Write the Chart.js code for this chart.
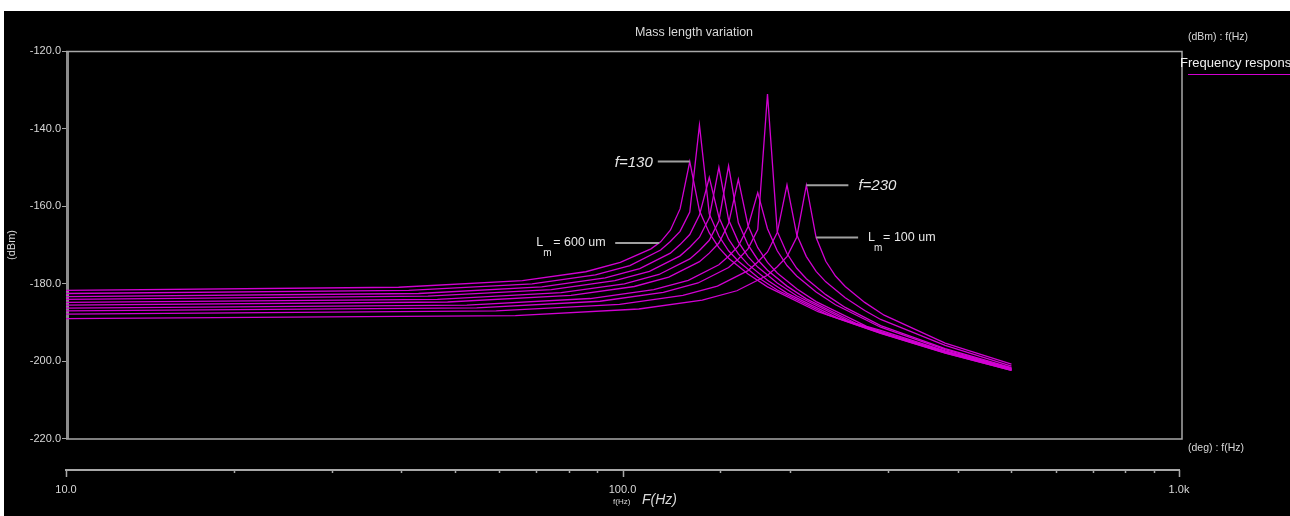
<!DOCTYPE html>
<html>
<head>
<meta charset="utf-8">
<script src="https://cdn.jsdelivr.net/npm/chart.js@4.4.1/dist/chart.umd.min.js"></script>
<style>
  html, body { margin: 0; padding: 0; background: #fff; }
  #wrap { position: absolute; left: 4px; top: 11px; width: 1286px; height: 505px; background: #000; }
  canvas { display: block; }
</style>
</head>
<body>
<div id="wrap"><canvas id="fr" width="1286" height="505"></canvas></div>
<script>
// ---------- DATA: frequency response, mass length sweep ----------
// each curve: [f (Hz), level (dBm)]
const curve01 = [[10,-181.7],[39.6,-180.9],[66.1,-179.2],[85.9,-176.9],[99.1,-174.5],[112.5,-171.0],[117.1,-169.2],[121.9,-166.2],[126.9,-160.7],[132.1,-148.5],[137.5,-161.2],[143.2,-166.9],[149.0,-170.7],[155.1,-173.4],[168.1,-177.5],[182.2,-180.8],[224.6,-187.2],[291,-192.8],[380,-197.9],[500,-202.3]];
const curve02 = [[10,-182.5],[41.3,-181.7],[68.8,-180.0],[89.4,-177.7],[103.1,-175.3],[117.1,-171.3],[121.9,-169.1],[126.9,-166.5],[132.1,-161.5],[137.5,-139.1],[143.2,-162.0],[149.0,-167.7],[155.1,-171.5],[161.5,-174.2],[175.0,-178.3],[189.7,-181.6],[233.8,-188.0],[291,-192.7],[380,-197.8],[500,-202.3]];
const curve03 = [[10,-183.3],[43.0,-182.5],[71.6,-180.8],[93.1,-178.5],[107.4,-176.1],[121.9,-172.1],[126.9,-169.9],[132.1,-167.3],[137.5,-162.3],[143.2,-152.6],[149.0,-162.8],[155.1,-168.5],[161.5,-172.3],[168.1,-175.0],[182.2,-179.1],[197.5,-182.4],[243.4,-188.8],[291,-192.6],[380,-197.7],[500,-202.2]];
const curve04 = [[10,-184.0],[44.7,-183.2],[74.5,-181.5],[96.9,-179.2],[111.8,-176.8],[126.9,-172.8],[132.1,-170.6],[137.5,-168.0],[143.2,-163.0],[149.0,-150.0],[155.1,-163.5],[161.5,-169.2],[168.1,-173.0],[175.0,-175.7],[189.7,-179.8],[205.6,-183.1],[253.3,-189.5],[291,-192.5],[380,-197.6],[500,-202.1]];
const curve05 = [[10,-184.8],[46.5,-184.0],[77.6,-182.3],[100.8,-180.0],[116.3,-177.6],[132.1,-173.6],[137.5,-171.4],[143.2,-168.8],[149.0,-163.8],[155.1,-149.6],[161.5,-164.3],[168.1,-170.0],[175.0,-173.8],[182.2,-176.5],[197.5,-180.6],[214.0,-183.9],[263.7,-190.3],[291,-192.3],[380,-197.5],[500,-202.0]];
const curve06 = [[10,-185.5],[48.5,-184.7],[80.8,-183.0],[105.0,-180.7],[121.1,-178.3],[137.5,-174.3],[143.2,-172.1],[149.0,-169.5],[155.1,-164.5],[161.5,-153.1],[168.1,-165.0],[175.0,-170.7],[182.2,-174.5],[189.7,-177.2],[205.6,-181.3],[222.8,-184.6],[274.6,-191.0],[291,-192.0],[380,-197.3],[500,-201.9]];
const curve07 = [[10,-186.3],[52.5,-185.5],[87.5,-183.8],[113.8,-181.5],[131.3,-179.1],[149.0,-175.1],[155.1,-172.9],[161.5,-170.3],[168.1,-165.3],[175.0,-156.5],[182.2,-165.8],[189.7,-171.5],[197.5,-175.3],[205.6,-178.0],[222.8,-182.1],[241.4,-185.4],[291,-191.2],[380,-197.0],[500,-201.8]];
const curve08 = [[10,-187.0],[54.7,-186.2],[91.1,-184.5],[118.4,-182.2],[136.7,-179.8],[155.1,-175.8],[161.5,-173.6],[168.1,-171.0],[175.0,-166.0],[182.2,-131.1],[189.7,-166.5],[197.5,-172.2],[205.6,-176.0],[214.0,-178.7],[231.9,-182.8],[251.3,-186.1],[291,-190.8],[380,-196.7],[500,-201.6]];
const curve09 = [[10,-187.8],[59.3,-187.0],[98.8,-185.3],[128.4,-183.0],[148.1,-180.6],[168.1,-176.6],[175.0,-174.4],[182.2,-171.8],[189.7,-166.8],[197.5,-154.5],[205.6,-167.3],[214.0,-173.0],[222.8,-176.8],[231.9,-179.5],[251.3,-183.6],[272.4,-186.9],[291,-189.2],[380,-195.9],[500,-201.2]];
const curve10 = [[10,-189.0],[64.2,-188.2],[107.0,-186.5],[139.1,-184.2],[160.5,-181.8],[182.2,-177.8],[189.7,-175.6],[197.5,-173.0],[205.6,-168.0],[214.0,-154.6],[222.8,-168.1],[231.9,-174.2],[241.4,-178.0],[251.3,-180.7],[272.4,-184.8],[295.2,-188.1],[380,-195.3],[500,-200.7]];
const curves = [curve01, curve02, curve03, curve04, curve05, curve06, curve07, curve08, curve09, curve10];

const yTicks = [-220, -200, -180, -160, -140, -120];
const xTickValues = [10, 100, 1000];
const xTickText = ['10.0', '100.0', '1.0k'];

// annotation anchors in data units [f, dBm]
const noteF130 = [132.1, -148.5];
const noteF230 = [214.0, -154.6];
const noteLm600 = [116.4, -169.5];
const noteLm100 = [222.8, -168.1];

const FONT = '"Liberation Sans", Arial, sans-serif';
const LINE = 'rgb(210,0,210)';
const TXT = '#d8d8d8';
const FRAME = '#a8a8a8';

const fmtX = v => { const i = xTickValues.indexOf(v); return i < 0 ? '' : xTickText[i]; };

const decor = {
  id: 'decor',
  beforeDatasetsDraw(ch) {
    const c = ch.ctx, a = ch.chartArea, y = ch.scales.y;
    const yb = y.getPixelForValue(-220), r = a.right + 3;
    c.save();
    c.fillStyle = '#8c8c8c';
    c.fillRect(a.left, a.top, 3, yb - a.top);
    c.strokeStyle = FRAME; c.lineWidth = 1.5;
    c.beginPath();
    c.moveTo(a.left, a.top + 0.5); c.lineTo(r, a.top + 0.5); c.lineTo(r, yb); c.lineTo(a.left, yb);
    c.stroke();
    c.restore();
  },
  afterDraw(ch) {
    const c = ch.ctx, a = ch.chartArea, x = ch.scales.x, y = ch.scales.y;
    c.save();
    // x axis tick marks (major longer)
    c.strokeStyle = FRAME; c.lineWidth = 1.5;
    x.ticks.forEach(t => {
      const px = Math.round(x.getPixelForValue(t.value)) + 0.5;
      const len = xTickValues.includes(t.value) ? 7 : 3;
      c.beginPath(); c.moveTo(px, a.bottom); c.lineTo(px, a.bottom + len); c.stroke();
    });
    // texts
    c.fillStyle = TXT; c.textBaseline = 'middle';
    c.font = '12.5px ' + FONT; c.textAlign = 'center';
    c.fillText('Mass length variation', 690, 22);
    c.textAlign = 'left';
    c.font = '10.5px ' + FONT;
    c.fillText('(dBm) : f(Hz)', 1184, 26.5);
    c.fillText('(deg) : f(Hz)', 1184, 437);
    c.font = '13px ' + FONT; c.fillStyle = '#f0f0f0';
    c.fillText('Frequency respons', 1176, 52);
    c.strokeStyle = LINE; c.lineWidth = 1;
    c.beginPath(); c.moveTo(1184, 63.5); c.lineTo(1286, 63.5); c.stroke();
    c.fillStyle = TXT;
    c.font = 'italic 14px ' + FONT;
    c.fillText('F(Hz)', 638, 489);
    c.font = '8px ' + FONT;
    c.fillText('f(Hz)', 609, 491);
    c.save();
    c.translate(8, 234); c.rotate(-Math.PI / 2);
    c.textAlign = 'center'; c.font = '11px ' + FONT;
    c.fillText('(dBm)', 0, 0);
    c.restore();
    // annotations
    const P = p => [x.getPixelForValue(p[0]), y.getPixelForValue(p[1])];
    const lead = (x0, x1, yy) => { c.strokeStyle = '#a0a0a0'; c.lineWidth = 2; c.beginPath(); c.moveTo(x0, yy); c.lineTo(x1, yy); c.stroke(); };
    c.fillStyle = '#e6e6e6';
    let [ax, ay] = P(noteF130);
    lead(ax - 32, ax, ay);
    c.font = 'italic 15px ' + FONT; c.textAlign = 'right';
    c.fillText('f=130', ax - 37, ay + 1.5);
    [ax, ay] = P(noteF230);
    lead(ax, ax + 42, ay);
    c.textAlign = 'left';
    c.fillText('f=230', ax + 52, ay + 1);
    [ax, ay] = P(noteLm600);
    lead(ax - 44, ax, ay);
    c.font = '12.5px ' + FONT;
    c.fillText('L', ax - 123, ay);
    c.fillText('= 600 um', ax - 106, ay);
    c.font = '10px ' + FONT;
    c.fillText('m', ax - 116, ay + 10);
    [ax, ay] = P(noteLm100);
    lead(ax, ax + 42, ay);
    c.font = '12.5px ' + FONT;
    c.fillText('L', ax + 52, ay);
    c.fillText('= 100 um', ax + 67, ay);
    c.font = '10px ' + FONT;
    c.fillText('m', ax + 58, ay + 11);
    c.restore();
  }
};

new Chart(document.getElementById('fr'), {
  type: 'line',
  data: {
    datasets: curves.map(cv => ({
      data: cv.map(([f, v]) => ({ x: f, y: v })),
      borderColor: LINE, borderWidth: 1.3, pointRadius: 0, tension: 0, fill: false
    }))
  },
  options: {
    responsive: false, animation: false, devicePixelRatio: 1,
    layout: { padding: { left: 0, top: 40, right: 111, bottom: 0 } },
    plugins: { legend: { display: false }, tooltip: { enabled: false }, title: { display: false } },
    scales: {
      x: {
        type: 'logarithmic', min: 10, max: 1000,
        afterFit(s) { s.height = 46; },
        grid: { display: true, drawOnChartArea: false, drawTicks: false },
        border: { display: true, color: FRAME, width: 2 },
        ticks: { autoSkip: false, maxRotation: 0, padding: 13, color: TXT, font: { family: FONT, size: 11 }, callback: v => fmtX(v) }
      },
      y: {
        min: -228, max: -120,
        afterFit(s) { s.width = 62; },
        afterBuildTicks(s) { s.ticks = yTicks.map(v => ({ value: v })); },
        grid: { drawOnChartArea: false, tickLength: 4, color: FRAME },
        border: { display: false },
        ticks: { padding: 1, color: TXT, font: { family: FONT, size: 11 }, callback: v => v.toFixed(1) }
      }
    }
  },
  plugins: [decor]
});
</script>
</body>
</html>
